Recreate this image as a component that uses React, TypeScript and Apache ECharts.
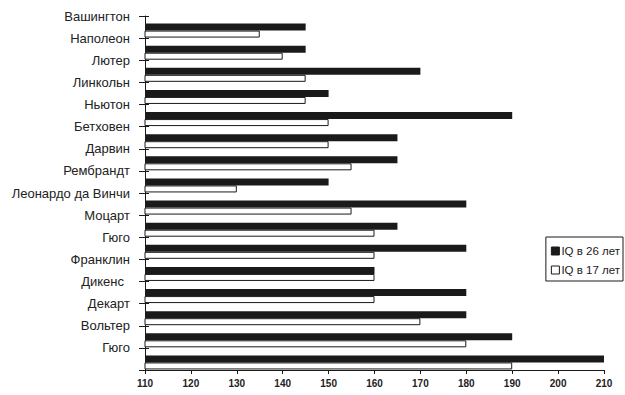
import React, { useEffect, useRef } from "react";
import * as echarts from "echarts";

const names = [
  "Вашингтон", "Наполеон", "Лютер", "Линкольн", "Ньютон", "Бетховен", "Дарвин", "Рембрандт",
  "Леонардо да Винчи", "Моцарт", "Гюго", "Франклин", "Дикенс", "Декарт", "Вольтер", "Гюго",
];
const iq26 = [145, 145, 170, 150, 190, 165, 165, 150, 180, 165, 180, 160, 180, 180, 190, 210];
const iq17 = [135, 140, 145, 145, 150, 150, 155, 130, 155, 160, 160, 160, 160, 170, 180, 190];
const xTicks = { min: 110, max: 210, interval: 10 };
const seriesNames = ["IQ в 26 лет", "IQ в 17 лет"];

export default function App() {
  const ref = useRef<HTMLDivElement>(null);
  useEffect(() => {
    if (!ref.current) return;
    const chart = echarts.init(ref.current, null, { renderer: "svg" });
    const idx = names.map((_, i) => String(i));
    chart.setOption({
      animation: false,
      backgroundColor: "#ffffff",
      textStyle: { fontFamily: "Liberation Sans, Arial, sans-serif" },
      grid: { left: 145, right: 21, top: 16, bottom: 25, containLabel: false },
      legend: {
        data: seriesNames,
        orient: "vertical",
        right: 2,
        top: 237,
        padding: [8, 3, 5, 5],
        itemGap: 7,
        itemWidth: 8,
        itemHeight: 8,
        itemStyle: { borderColor: "#1a1a1a", borderWidth: 1 },
        icon: "rect",
        borderColor: "#1a1a1a",
        borderWidth: 1,
        textStyle: { fontSize: 11.5, color: "#222", padding: [0, 0, 0, -3] },
      },
      xAxis: {
        type: "value",
        min: xTicks.min,
        max: xTicks.max,
        interval: xTicks.interval,
        splitLine: { show: false },
        axisLine: { show: true, lineStyle: { color: "#1a1a1a", width: 1 } },
        axisTick: { show: true, length: 4, lineStyle: { color: "#1a1a1a" } },
        axisLabel: { fontSize: 10, fontWeight: "bold", color: "#222", margin: 8 },
      },
      yAxis: [
        {
          type: "category",
          data: idx,
          inverse: true,
          position: "left",
          axisLine: { show: true, lineStyle: { color: "#1a1a1a", width: 1 } },
          axisTick: { show: true, inside: true, length: 4, interval: 0, lineStyle: { color: "#1a1a1a" } },
          axisLabel: { show: false },
        },
        {
          type: "category",
          data: [...names, ""],
          inverse: true,
          position: "left",
          boundaryGap: false,
          axisLine: { show: false },
          axisTick: { show: true, length: 6, interval: 0, lineStyle: { color: "#1a1a1a" } },
          axisLabel: {
            show: true,
            interval: 0,
            margin: 15,
            fontSize: 13,
            color: "#222",
            formatter: (v: string) => (v === "Дикенс" ? "{p|Дикенс}" : v),
            rich: { p: { fontSize: 13, color: "#222", padding: [0, 6, 0, 0] } },
          },
        },
      ],
      series: [
        {
          name: "spacer",
          type: "bar",
          yAxisIndex: 0,
          barWidth: 7,
          barGap: "0%",
          data: names.map(() => null),
          itemStyle: { color: "transparent" },
          silent: true,
        },
        {
          name: seriesNames[0],
          type: "bar",
          yAxisIndex: 0,
          barWidth: 7,
          barGap: "0%",
          data: iq26,
          itemStyle: { color: "#1a1a1a", borderColor: "#1a1a1a", borderWidth: 0 },
        },
        {
          name: seriesNames[1],
          type: "bar",
          yAxisIndex: 0,
          barWidth: 7,
          barGap: "0%",
          data: iq17,
          itemStyle: { color: "#ffffff", borderColor: "#1a1a1a", borderWidth: 1 },
        },
      ],
    });
    return () => chart.dispose();
  }, []);
  return <div ref={ref} style={{ width: 625, height: 395, position: "absolute", left: 0, top: 0 }} />;
}
